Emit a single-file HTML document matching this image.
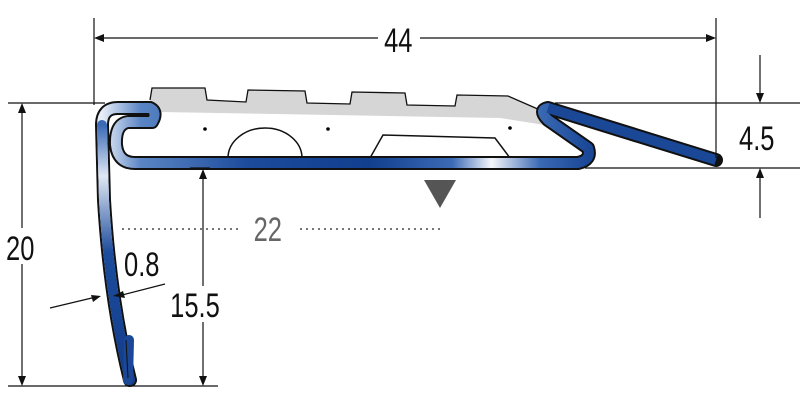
<!DOCTYPE html>
<html><head><style>body{margin:0;background:#fff}svg{display:block}</style></head><body>
<svg width="800" height="400" viewBox="0 0 800 400" xmlns="http://www.w3.org/2000/svg" font-family="Liberation Sans, sans-serif">
<defs>
<linearGradient id="g" x1="0" x2="1" y1="0" y2="0">
<stop offset="0" stop-color="#e8eef8"/><stop offset="0.08" stop-color="#5a85c4"/><stop offset="0.3" stop-color="#1c4b9c"/><stop offset="0.55" stop-color="#123f8e"/><stop offset="0.72" stop-color="#3d6bb5"/><stop offset="0.8" stop-color="#f4f6fb"/><stop offset="0.9" stop-color="#3a69b3"/><stop offset="1" stop-color="#1a4796"/>
</linearGradient>
<linearGradient id="gv" x1="0" x2="0" y1="0" y2="1">
<stop offset="0" stop-color="#3a6ab5"/><stop offset="0.2" stop-color="#dfe7f4"/><stop offset="0.5" stop-color="#1d4c9c"/><stop offset="1" stop-color="#113c8a"/>
</linearGradient>
</defs>
<path d="M150,100 L152,88 L205,88 L207,100 L246,102 L248,90 L305,91 L307,103 L350,104 L352,92 L405,93 L407,105 L455,106 L457,95 L508,96 L545,113 L545,125 L500,118 L160,112 Z" fill="#d6d6d6"/>
<path d="M150,100 L152,88 L205,88 L207,100 L246,102 L248,90 L305,91 L307,103 L350,104 L352,92 L405,93 L407,105 L455,106 L457,95 L508,96 L540,110" fill="none" stroke="#111" stroke-width="1.3"/>
<path d="M228,158 A37,30 0 0 1 302,158" fill="none" stroke="#111" stroke-width="1.5"/>
<path d="M370,158 L383,135 L495,138 L510,158" fill="none" stroke="#111" stroke-width="1.5"/>
<circle cx="205" cy="129" r="1.8"/><circle cx="328" cy="129" r="1.8"/><circle cx="510" cy="128" r="1.8"/>
<g fill="none" stroke-linecap="round" stroke-linejoin="round">
<path d="M130,380 Q110,300 104,200 L102,125 Q102,108 118,108 L150,108 Q158,112 152,122 L128,122 Q115,124 116,145 Q118,163 135,163 L578,163 Q592,160 588,148 L548,120 Q538,110 548,108 L716,160" stroke="#111" stroke-width="14"/>
<path d="M130,380 Q110,300 104,200 L102,125 Q102,108 118,108 L150,108 Q158,112 152,122 L128,122 Q115,124 116,145 Q118,163 135,163 L578,163 Q592,160 588,148 L548,120 Q538,110 548,108" stroke="url(#g)" stroke-width="10"/>
<path d="M548,108 L716,160" stroke="#1a4796" stroke-width="10" stroke-linecap="butt"/>
<path d="M130,380 Q110,300 104,200 L102,125" stroke="url(#gv)" stroke-width="10"/>
<path d="M128,380 L129,340" stroke="#1a4796" stroke-width="10"/>
</g>
<path d="M128,378 L126,340" stroke="#111" stroke-width="1"/>
<g stroke="#111" stroke-width="1.2" fill="none">
<line x1="94" y1="18" x2="94" y2="105"/><line x1="716" y1="18" x2="716" y2="158"/>
<line x1="100" y1="38" x2="710" y2="38"/>
<line x1="8" y1="103" x2="105" y2="103"/><line x1="555" y1="103" x2="800" y2="103"/>
<line x1="585" y1="168" x2="800" y2="168"/><line x1="190" y1="168" x2="210" y2="168"/>
<line x1="8" y1="386" x2="218" y2="386"/>
<line x1="22" y1="108" x2="22" y2="381"/>
<line x1="203" y1="175" x2="203" y2="381"/>
<line x1="760" y1="55" x2="760" y2="98"/><line x1="760" y1="173" x2="760" y2="218"/>
<line x1="50" y1="308" x2="96" y2="297"/><line x1="165" y1="284" x2="118" y2="296"/>
</g>
<g fill="#111">
<path d="M94,38 l10,-4 l0,8z"/><path d="M716,38 l-10,-4 l0,8z"/>
<path d="M22,103 l-4,10 l8,0z"/><path d="M22,386 l-4,-10 l8,0z"/>
<path d="M203,169 l-4,10 l8,0z"/><path d="M203,386 l-4,-10 l8,0z"/>
<path d="M760,103 l-4,-10 l8,0z"/><path d="M760,168 l-4,10 l8,0z"/>
<path d="M101,296 l-10,-1 l2,7z"/><path d="M113,296 l10,-5 l2,7z"/>
</g>
<path d="M424,180 L456,180 L440,208 Z" fill="#555"/>
<line x1="122" y1="229" x2="242" y2="229" stroke="#777" stroke-width="2" stroke-dasharray="2,4"/>
<line x1="300" y1="229" x2="442" y2="229" stroke="#777" stroke-width="2" stroke-dasharray="2,4"/>
<rect x="378" y="24" width="42" height="28" fill="#fff"/>
<rect x="3" y="228" width="36" height="36" fill="#fff"/>
<rect x="166" y="286" width="64" height="36" fill="#fff"/>
<g font-size="34" fill="#111" text-anchor="middle" transform="scale(0.75,1)">
<text x="531" y="52">44</text>
<text x="27" y="260">20</text>
<text x="260" y="317">15.5</text>
<text x="189" y="276">0.8</text>
<text x="1009" y="150">4.5</text>
<text x="357" y="241" fill="#666">22</text>
</g>
</svg>
</body></html>
